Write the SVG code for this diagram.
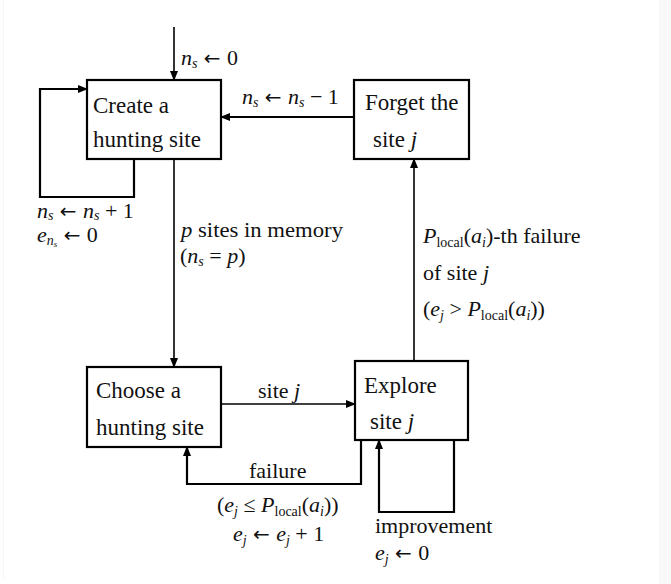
<svg xmlns="http://www.w3.org/2000/svg" width="671" height="584" viewBox="0 0 671 584">
<defs>
<marker id="ah" markerWidth="10" markerHeight="8" refX="9" refY="4" orient="auto" markerUnits="userSpaceOnUse">
<path d="M0,0 L10,4 L0,8 Z" fill="#000"/>
</marker>
<style>
.box{fill:#fff;stroke:#000;stroke-width:2.2}
.c{fill:none;stroke:#000;stroke-width:1.6}
.ct{fill:none;stroke:#000;stroke-width:2.2}
text{font-family:"Liberation Serif","DejaVu Serif",serif;font-size:22px;fill:#111}
.bt{font-size:23px}
.i{font-style:italic}
.s{font-size:14px;font-style:italic}
.ar{font-family:"DejaVu Sans",sans-serif;font-size:20px}
</style>
</defs>
<rect x="0" y="0" width="671" height="584" fill="#fff"/>
<rect x="659" y="0" width="12" height="584" fill="#f9f9f9"/>
<line x1="3.5" y1="0" x2="3.5" y2="580" stroke="#f6f6f6" stroke-width="1"/>
<g id="connectors">
<line class="c" x1="174" y1="27" x2="174" y2="80" marker-end="url(#ah)"/>
<line class="ct" x1="354" y1="117" x2="221" y2="117" marker-end="url(#ah)"/>
<polyline class="ct" points="134,159 134,197 40,197 40,89 87,89" marker-end="url(#ah)"/>
<line class="c" x1="174" y1="159" x2="174" y2="367" marker-end="url(#ah)"/>
<line class="c" x1="221" y1="404" x2="355" y2="404" marker-end="url(#ah)"/>
<polyline class="ct" points="361,440 361,484 187,484 187,447" marker-end="url(#ah)"/>
<polyline class="ct" points="454,440 454,512 379,512 379,440" marker-end="url(#ah)"/>
<line class="c" x1="414" y1="361" x2="414" y2="159" marker-end="url(#ah)"/>
</g>
<g id="labels">
<text x="181" y="65"><tspan class="i">n</tspan><tspan class="s" dy="3">s</tspan><tspan class="ar" dy="-3"> ← </tspan><tspan>0</tspan></text>
<text x="242" y="104"><tspan class="i">n</tspan><tspan class="s" dy="3">s</tspan><tspan class="ar" dy="-3"> ← </tspan><tspan class="i">n</tspan><tspan class="s" dy="3">s</tspan><tspan dy="-3"> − 1</tspan></text>
<text x="37" y="218"><tspan class="i">n</tspan><tspan class="s" dy="2">s</tspan><tspan class="ar" dy="-2"> ← </tspan><tspan class="i">n</tspan><tspan class="s" dy="2">s</tspan><tspan dy="-2"> + 1</tspan></text>
<text x="37" y="242"><tspan class="i">e</tspan><tspan class="s" dy="3">n</tspan><tspan font-size="9" font-style="italic" dy="2">s</tspan><tspan class="ar" dy="-5"> ← </tspan><tspan>0</tspan></text>
<text x="181" y="237" textLength="162" lengthAdjust="spacingAndGlyphs"><tspan class="i">p</tspan> sites in memory</text>
<text x="180" y="263">(<tspan class="i">n</tspan><tspan class="s" dy="3">s</tspan><tspan dy="-3"> = </tspan><tspan class="i">p</tspan>)</text>
<text x="423" y="243"><tspan class="i">P</tspan><tspan font-size="14" dy="4">local</tspan><tspan dy="-4">(</tspan><tspan class="i">a</tspan><tspan class="s" dy="4">i</tspan><tspan dy="-4">)-th failure</tspan></text>
<text x="423" y="280">of site <tspan class="i">j</tspan></text>
<text x="423" y="316">(<tspan class="i">e</tspan><tspan class="s" dy="4">j</tspan><tspan dy="-4"> &gt; </tspan><tspan class="i">P</tspan><tspan font-size="14" dy="4">local</tspan><tspan dy="-4">(</tspan><tspan class="i">a</tspan><tspan class="s" dy="4">i</tspan><tspan dy="-4">))</tspan></text>
<text x="258" y="398">site <tspan class="i">j</tspan></text>
<text x="249" y="478">failure</text>
<text x="217" y="512">(<tspan class="i">e</tspan><tspan class="s" dy="4">j</tspan><tspan dy="-4"> ≤ </tspan><tspan class="i">P</tspan><tspan font-size="14" dy="4">local</tspan><tspan dy="-4">(</tspan><tspan class="i">a</tspan><tspan class="s" dy="4">i</tspan><tspan dy="-4">))</tspan></text>
<text x="233" y="541"><tspan class="i">e</tspan><tspan class="s" dy="4">j</tspan><tspan class="ar" dy="-4"> ← </tspan><tspan class="i">e</tspan><tspan class="s" dy="4">j</tspan><tspan dy="-4"> + 1</tspan></text>
<text x="375" y="533">improvement</text>
<text x="375" y="560"><tspan class="i">e</tspan><tspan class="s" dy="4">j</tspan><tspan class="ar" dy="-4"> ← </tspan><tspan>0</tspan></text>
</g>
<g id="create">
<rect class="box" x="87" y="80" width="134" height="79"/>
<text class="bt" x="93" y="113">Create a</text>
<text class="bt" x="93" y="147">hunting site</text>
</g>
<g id="forget">
<rect class="box" x="354" y="80" width="115" height="79"/>
<text class="bt" x="365" y="110">Forget the</text>
<text class="bt" x="373" y="147">site <tspan class="i">j</tspan></text>
</g>
<g id="choose">
<rect class="box" x="87" y="367" width="134" height="80"/>
<text class="bt" x="96" y="398">Choose a</text>
<text class="bt" x="96" y="435">hunting site</text>
</g>
<g id="explore">
<rect class="box" x="355" y="361" width="113" height="79"/>
<text class="bt" x="364" y="393">Explore</text>
<text class="bt" x="370" y="429">site <tspan class="i">j</tspan></text>
</g>
</svg>
